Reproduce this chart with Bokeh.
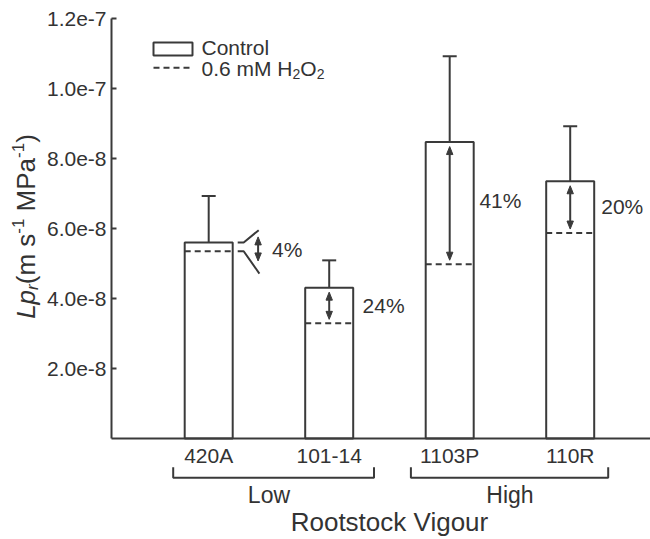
import math
from bokeh.plotting import figure
from bokeh.models import Range1d, FixedTicker, Label, PrintfTickFormatter
from bokeh.embed import file_html
from bokeh.resources import INLINE

# ---------------- data ----------------
rootstocks = ["420A", "101-14", "1103P", "110R"]
control = [5.60e-8, 4.31e-8, 8.47e-8, 7.35e-8]
control_err = [1.33e-8, 0.78e-8, 2.45e-8, 1.57e-8]
h2o2 = [5.35e-8, 3.29e-8, 4.98e-8, 5.87e-8]
reduction = ["4%", "24%", "41%", "20%"]
vigour_groups = ["Low", "High"]
group_members = [["420A", "101-14"], ["1103P", "110R"]]
y_ticks = [2e-8, 4e-8, 6e-8, 8e-8, 1.0e-7, 1.2e-7]
y_tick_labels = ["2.0e-8", "4.0e-8", "6.0e-8", "8.0e-8", "1.0e-7", "1.2e-7"]
y_max = 1.2e-7
x_title = "Rootstock Vigour"
legend_control = "Control"

# ---------------- layout (pixels) ----------------
W, H = 650, 539
AX_L, AX_T, AX_B = 111, 18, 438          # y-axis x position, axis top/bottom
X_FIRST_PX, X_STEP_PX = 208.2, 120.5     # first bar centre, spacing
DXP = 1.0 / X_STEP_PX
X0 = 1 - X_FIRST_PX * DXP
X1 = X0 + W * DXP
DYP = y_max / (AX_B - AX_T)
Y1 = AX_B * DYP
Y0 = Y1 - H * DYP
BASE = 0.38      # empirical baseline correction (em)
RBASE = 0.30     # same for rotated text


def sx(px):
    return X0 + px * DXP


def sy(py):
    return Y1 - py * DYP


LC = "#3a3a3a"
TC = "#333333"
FONT = "Liberation Sans"

AW = {'L': .556, 'p': .556, 'r': .333, '(': .333, 'm': .833, ' ': .278, 's': .5,
      '-': .333, '1': .556, 'M': .833, 'P': .667, 'a': .556, ')': .333, '0': .556,
      '.': .278, '6': .556, 'H': .722, 'O': .778, '2': .556}


def tw(s, size):
    return sum(AW.get(c, .556) for c in s) * size


def htext(px, py_base, text, size, align="left", style="normal"):
    p.add_layout(Label(x=sx(px), y=sy(py_base - BASE * size), text=text, text_align=align,
                       text_baseline="alphabetic", text_font=FONT,
                       text_font_size=f"{size}px", text_font_style=style, text_color=TC))


xs = [i + 1 for i in range(len(rootstocks))]
pos = dict(zip(rootstocks, xs))
BW = 48 * DXP
CAP = 14 * DXP

p = figure(width=W, height=H, x_range=Range1d(X0, X1), y_range=Range1d(Y0, Y1),
           output_backend="svg", toolbar_location=None,
           min_border_left=0, min_border_right=0, min_border_top=0, min_border_bottom=0)
p.outline_line_color = None
p.xgrid.visible = False
p.ygrid.visible = False
p.background_fill_color = "white"
p.border_fill_color = "white"

for ax in (p.xaxis[0], p.yaxis[0]):
    ax.axis_line_color = LC
    ax.axis_line_width = 2
    ax.major_tick_line_color = LC
    ax.major_tick_line_width = 2
    ax.minor_tick_line_color = None
    ax.major_label_text_color = TC
    ax.major_label_text_font = FONT

ya = p.yaxis[0]
ya.fixed_location = sx(AX_L)
ya.bounds = (0, y_max)
ya.ticker = FixedTicker(ticks=y_ticks)
ya.formatter = PrintfTickFormatter(format="%.1e")
ya.major_label_overrides = dict(zip(y_ticks, y_tick_labels))
ya.major_tick_in = 5
ya.major_tick_out = 0
ya.major_label_standoff = 5
ya.major_label_text_font_size = "21px"

xa = p.xaxis[0]
xa.fixed_location = 0
xa.bounds = (sx(AX_L), X1)
xa.ticker = FixedTicker(ticks=xs)
xa.major_label_overrides = dict(zip(xs, rootstocks))
xa.major_tick_in = 0
xa.major_tick_out = 0
xa.major_tick_line_color = None
xa.major_label_standoff = 5
xa.major_label_text_font_size = "21px"

# bars
p.vbar(x=xs, top=control, bottom=0, width=BW, fill_color="white",
       line_color=LC, line_width=2)
# error bars
tops = [c + e for c, e in zip(control, control_err)]
p.segment(x0=xs, y0=control, x1=xs, y1=tops, line_color=LC, line_width=2)
p.segment(x0=[x - CAP / 2 for x in xs], y0=tops, x1=[x + CAP / 2 for x in xs], y1=tops,
          line_color=LC, line_width=2)
# H2O2 dashed levels
p.segment(x0=[x - BW / 2 for x in xs], y0=h2o2, x1=[x + BW / 2 for x in xs], y1=h2o2,
          line_color=LC, line_width=2, line_dash="6 4")

# double arrows
HL, HW = 8, 3.2
shaft_x, shaft_top, shaft_bot = [], [], []
for i, x in enumerate(xs):
    if i == 0:
        ax_x = x + BW / 2 + 25.4 * DXP
        t = control[i] + 5.6 * DYP
        b = h2o2[i] - 9.7 * DYP
    else:
        ax_x = x
        t = control[i] - 4.5 * DYP
        b = h2o2[i] + 4.0 * DYP
    shaft_x.append(ax_x)
    shaft_top.append(t)
    shaft_bot.append(b)
p.segment(x0=shaft_x, y0=[t - 4 * DYP for t in shaft_top], x1=shaft_x,
          y1=[b + 4 * DYP for b in shaft_bot], line_color=LC, line_width=2)
hx, hy = [], []
for ax_x, t, b in zip(shaft_x, shaft_top, shaft_bot):
    hx.append([ax_x, ax_x - HW * DXP, ax_x + HW * DXP])
    hy.append([t, t - HL * DYP, t - HL * DYP])
    hx.append([ax_x, ax_x - HW * DXP, ax_x + HW * DXP])
    hy.append([b, b + HL * DYP, b + HL * DYP])
p.patches(xs=hx, ys=hy, fill_color=LC, line_color=LC, line_width=1)

# magnifier funnel for the first bar
bx = xs[0] + BW / 2
p.multi_line(xs=[[bx + 5 * DXP, bx + 11 * DXP, bx + 26 * DXP],
                 [bx + 5 * DXP, bx + 11 * DXP, bx + 26.7 * DXP]],
             ys=[[control[0], control[0], control[0] + 12.3 * DYP],
                 [h2o2[0], h2o2[0], h2o2[0] - 22.3 * DYP]],
             line_color=LC, line_width=2)

# percentage labels
pct_dx = [39.4, 9.4, 5.7, 7.0]
pct_dy = [3.3, 0.0, -2.2, 0.0]
PF = 21
for i, x in enumerate(xs):
    mid = (control[i] + h2o2[i]) / 2
    p.add_layout(Label(x=x + BW / 2 + pct_dx[i] * DXP,
                       y=mid - (pct_dy[i] + 0.358 * PF - BASE * PF) * DYP,
                       text=reduction[i], text_align="left", text_baseline="alphabetic",
                       text_font=FONT, text_font_size=f"{PF}px", text_color=TC))

# group brackets
pads = [(35.5, 44.8), (38.8, 38.0)]
bxs, bys = [], []
for g, members, (pl, pr) in zip(vigour_groups, group_members, pads):
    xl = pos[members[0]] - pl * DXP
    xr = pos[members[-1]] + pr * DXP
    yt, yb = sy(466.7), sy(477.3)
    bxs.append([xl, xl, xr, xr])
    bys.append([yt, yb, yb, yt])
    gx = sum(pos[m] for m in members) / len(members)
    p.add_layout(Label(x=gx, y=sy(503.3 - BASE * 23), text=g, text_align="center",
                       text_baseline="alphabetic", text_font=FONT, text_font_size="23px",
                       text_color=TC))
p.multi_line(xs=bxs, ys=bys, line_color=LC, line_width=2)

p.add_layout(Label(x=(xs[0] + xs[-1]) / 2, y=sy(531.7 - BASE * 26), text=x_title,
                   text_align="center", text_baseline="alphabetic", text_font=FONT,
                   text_font_size="26px", text_color=TC))

# y axis title with italic Lp, subscript r and superscripts
F, f = 26, 17
pieces = [("Lp", F, "italic", 0), ("r", f, "italic", 4), ("(m s", F, "normal", 0),
          ("-1", f, "normal", -10), (" ", F, None, 0), ("MPa", F, "normal", 0),
          ("-1", f, "normal", -10), (")", F, "normal", 0)]
total = sum(tw(t, s) for t, s, _, _ in pieces)
cur = 226 + total / 2
for t, s, st, shift in pieces:
    if st is not None:
        p.add_layout(Label(x=sx(33 + shift - RBASE * s), y=sy(cur), text=t,
                           angle=math.pi / 2, angle_units="rad", text_align="left",
                           text_baseline="alphabetic", text_font=FONT,
                           text_font_size=f"{s}px", text_font_style=st, text_color=TC))
    cur -= tw(t, s)

# legend
p.quad(left=[sx(153)], right=[sx(192)], top=[sy(42)], bottom=[sy(55)],
       fill_color="white", line_color=LC, line_width=2)
p.segment(x0=[sx(153)], y0=[sy(67.3)], x1=[sx(192)], y1=[sy(67.3)],
          line_color=LC, line_width=2, line_dash="6 4")
LF, lf = 21, 14
htext(201, 55, legend_control, LF)
lx = 201
for t, s, shift in [("0.6 mM H", LF, 0), ("2", lf, 5), ("O", LF, 0), ("2", lf, 5)]:
    p.add_layout(Label(x=sx(lx), y=sy(76 + shift - BASE * LF), text=t, text_align="left",
                       text_baseline="alphabetic", text_font=FONT,
                       text_font_size=f"{s}px", text_color=TC))
    lx += tw(t, s)

open("out.html", "w").write(file_html(p, INLINE))
